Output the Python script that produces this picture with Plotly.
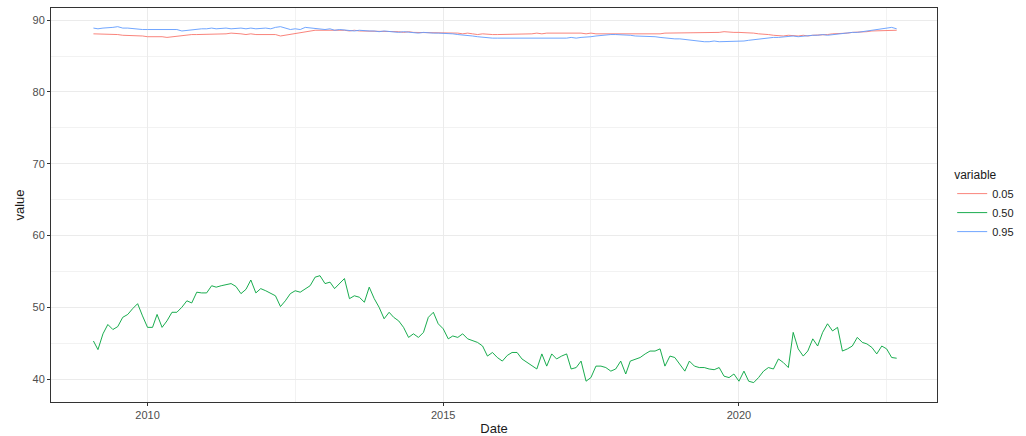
import pandas as pd
import plotly.graph_objects as go

# Monthly observations, Feb 2009 .. Sep 2022
months = pd.date_range("2009-02-01", "2022-09-01", freq="MS")

q05 = [
    88.1, 88.1, 88.0, 88.1, 88.0, 88.0, 87.9, 87.9, 87.8, 87.8, 87.8,
    87.7, 87.7, 87.8, 87.7, 87.6, 87.7, 87.8, 87.8, 87.9, 88.0, 88.0, 88.0,
    88.0, 88.1, 88.0, 88.1, 88.1, 88.2, 88.1, 88.1, 88.0, 88.1, 88.0, 88.0,
    88.0, 88.1, 88.0, 87.8, 87.9, 88.1, 88.2, 88.3, 88.4, 88.5, 88.6, 88.6,
    88.6, 88.7, 88.6, 88.6, 88.6, 88.5, 88.6, 88.5, 88.5, 88.5, 88.4, 88.5,
    88.5, 88.4, 88.4, 88.4, 88.3, 88.4, 88.3, 88.3, 88.3, 88.3, 88.2, 88.3,
    88.3, 88.2, 88.2, 88.2, 88.1, 88.2, 88.1, 88.0, 88.1, 88.0, 88.0, 88.0,
    88.0, 88.0, 88.1, 88.0, 88.1, 88.1, 88.1, 88.2, 88.1, 88.2, 88.2, 88.2,
    88.2, 88.2, 88.3, 88.2, 88.2, 88.1, 88.2, 88.1, 88.1, 88.1, 88.0, 88.1,
    88.1, 88.0, 88.0, 88.1, 88.0, 88.0, 88.0, 88.1, 88.1, 88.2, 88.2, 88.2,
    88.2, 88.2, 88.3, 88.3, 88.2, 88.3, 88.3, 88.3, 88.3, 88.4, 88.3, 88.3,
    88.3, 88.3, 88.2, 88.2, 88.1, 88.1, 88.0, 87.9, 87.8, 87.8, 87.9, 87.8,
    87.8, 87.9, 87.8, 87.9, 87.9, 88.0, 88.0, 88.1, 88.1, 88.2, 88.2, 88.3,
    88.3, 88.4, 88.4, 88.5, 88.5, 88.5, 88.6, 88.6, 88.6,
]

q50 = [
    45.3, 44.1, 46.3, 47.6, 46.9, 47.3, 48.6, 49.0, 49.8, 50.5, 48.8,
    47.2, 47.2, 49.0, 47.2, 48.1, 49.3, 49.3, 50.0, 50.9, 50.6, 52.1, 52.0,
    52.0, 53.0, 52.8, 53.0, 53.2, 53.3, 52.9, 51.9, 52.5, 53.8, 52.0, 52.6,
    52.3, 51.9, 51.6, 50.1, 50.9, 51.9, 52.3, 52.1, 52.6, 53.0, 54.2, 54.4,
    53.3, 53.5, 52.6, 53.3, 54.0, 51.2, 51.6, 51.4, 50.7, 52.8, 51.2, 50.0,
    48.4, 49.3, 48.6, 48.1, 47.2, 45.8, 46.3, 45.8, 46.5, 48.6, 49.3, 47.7,
    47.0, 45.6, 46.0, 45.8, 46.3, 45.6, 45.3, 45.1, 44.6, 43.2, 43.7, 43.0,
    42.5, 43.3, 43.7, 43.7, 42.8, 42.3, 41.8, 41.4, 43.5, 41.8, 43.5, 42.8,
    43.2, 43.5, 41.4, 41.6, 42.5, 39.7, 40.2, 41.8, 41.8, 41.6, 41.1, 41.4,
    42.5, 40.7, 42.5, 42.8, 43.0, 43.5, 43.9, 43.9, 44.2, 41.8, 43.2, 43.0,
    42.1, 41.1, 42.5, 41.8, 41.6, 41.6, 41.4, 41.3, 41.6, 40.4, 40.2, 40.7,
    39.7, 41.1, 39.7, 39.5, 40.2, 41.1, 41.6, 41.4, 42.8, 42.3, 41.6, 46.5,
    44.2, 43.2, 43.9, 45.6, 44.6, 46.5, 47.7, 46.7, 47.2, 43.9, 44.2, 44.6,
    45.8, 45.1, 44.9, 44.4, 43.5, 44.6, 44.2, 43.0, 42.9,
]

q95 = [
    88.9, 88.8, 88.9, 88.9, 89.0, 89.1, 88.9, 88.9, 88.8, 88.8, 88.7,
    88.7, 88.7, 88.6, 88.7, 88.7, 88.6, 88.7, 88.5, 88.6, 88.7, 88.8, 88.8,
    88.8, 88.9, 88.8, 88.9, 88.9, 88.8, 88.9, 88.9, 88.8, 88.9, 88.8, 88.9,
    88.9, 88.8, 89.0, 89.1, 88.9, 88.7, 88.8, 88.7, 89.0, 88.9, 88.8, 88.7,
    88.7, 88.8, 88.6, 88.7, 88.6, 88.6, 88.5, 88.6, 88.5, 88.5, 88.5, 88.4,
    88.5, 88.4, 88.4, 88.3, 88.4, 88.3, 88.3, 88.2, 88.3, 88.2, 88.2, 88.2,
    88.2, 88.1, 88.1, 88.0, 87.9, 87.8, 87.8, 87.7, 87.6, 87.6, 87.5, 87.5,
    87.5, 87.4, 87.4, 87.5, 87.4, 87.4, 87.4, 87.5, 87.4, 87.5, 87.5, 87.4,
    87.5, 87.5, 87.6, 87.5, 87.6, 87.6, 87.7, 87.8, 87.9, 88.0, 88.0, 88.0,
    88.0, 87.9, 87.9, 87.8, 87.8, 87.7, 87.8, 87.7, 87.6, 87.5, 87.4, 87.4,
    87.4, 87.3, 87.2, 87.1, 87.1, 87.0, 87.0, 87.1, 87.0, 87.0, 87.1, 87.0,
    87.0, 87.1, 87.2, 87.3, 87.4, 87.4, 87.5, 87.6, 87.6, 87.7, 87.7, 87.8,
    87.7, 87.8, 87.8, 87.9, 87.9, 88.0, 87.9, 88.0, 88.1, 88.2, 88.2, 88.3,
    88.3, 88.4, 88.5, 88.6, 88.6, 88.7, 88.8, 89.0, 88.8,
]

series_names = ["0.05", "0.50", "0.95"]
series_colors = ["#F8766D", "#00A33B", "#619CFF"]
series_values = [q05, q50, q95]

y_ticks = [40, 50, 60, 70, 80, 90]
y_minor = [45, 55, 65, 75, 85]
x_ticks = ["2010-01-01", "2015-01-01", "2020-01-01"]
x_tick_labels = ["2010", "2015", "2020"]
x_minor = ["2012-07-01", "2017-07-01", "2022-07-01"]

fig = go.Figure()
for name, vals, col in zip(series_names, series_values, series_colors):
    fig.add_trace(go.Scatter(
        x=months, y=vals, mode="lines", name=name,
        line=dict(color=col, width=0.9),
    ))

font_family = "Liberation Sans, Arial, sans-serif"
fig.update_layout(
    width=1026, height=436,
    margin=dict(l=51, r=88, t=8, b=34),
    paper_bgcolor="white", plot_bgcolor="white",
    font=dict(family=font_family, size=11, color="#1A1A1A"),
    legend=dict(
        title=dict(text="variable", font=dict(size=12, color="#1A1A1A")),
        x=1.016, xanchor="left", y=0.5, yanchor="middle",
        font=dict(size=11, color="#1A1A1A"),
        bgcolor="rgba(0,0,0,0)", itemwidth=30,
    ),
    xaxis=dict(
        type="date",
        range=["2008-05-15", "2023-05-08"],
        tickvals=x_ticks, ticktext=x_tick_labels,
        tickfont=dict(size=11, color="#4D4D4D"),
        ticks="outside", ticklen=3, tickcolor="#333333", tickwidth=1,
        showgrid=True, gridcolor="#EBEBEB", gridwidth=1,
        minor=dict(tickvals=x_minor, showgrid=True, gridcolor="#F2F2F2", gridwidth=1, ticks=""),
        showline=True, linecolor="#333333", linewidth=1, mirror=True,
        zeroline=False,
        title=dict(text="Date", font=dict(size=13, color="#1A1A1A"), standoff=3),
        automargin=False,
    ),
    yaxis=dict(
        range=[36.8, 91.7],
        tickvals=y_ticks,
        tickfont=dict(size=11, color="#4D4D4D"),
        ticks="outside", ticklen=3, tickcolor="#333333", tickwidth=1,
        showgrid=True, gridcolor="#EBEBEB", gridwidth=1,
        minor=dict(tickvals=y_minor, showgrid=True, gridcolor="#F2F2F2", gridwidth=1, ticks=""),
        showline=True, linecolor="#333333", linewidth=1, mirror=True,
        zeroline=False,
        title=dict(text="value", font=dict(size=13, color="#1A1A1A"), standoff=4),
        automargin=False,
    ),
)

fig.write_html("out.html")
